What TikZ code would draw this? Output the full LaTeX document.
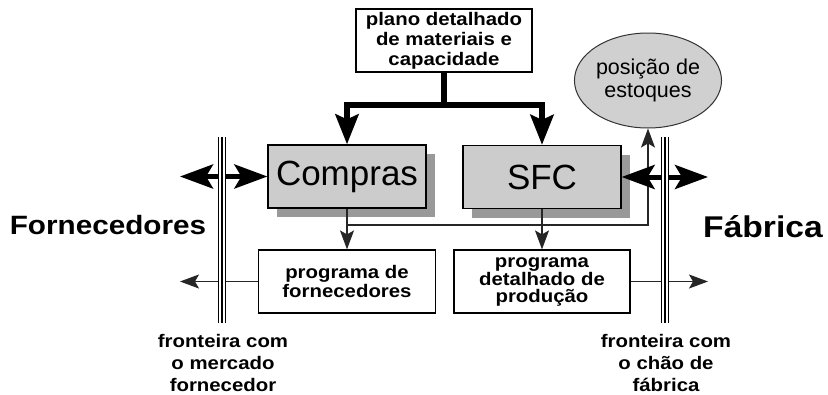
\documentclass[tikz,border=0pt]{standalone}
\usepackage{fontspec}
\setmainfont{Liberation Sans}
\newfontfamily\bsans[FakeStretch=1.12]{Liberation Sans}
\usetikzlibrary{arrows.meta,shapes.geometric,shadows}
\definecolor{boxgray}{HTML}{CCCCCC}
\definecolor{shadowgray}{HTML}{999999}
\definecolor{circgray}{HTML}{D0D0D0}
\tikzset{
  wbox/.style={draw=black, line width=1.2pt, fill=white, inner sep=0pt, align=center,
    font=\bsans\bfseries\fontsize{18.2}{17}\selectfont},
  gbox/.style={draw=black, line width=1.2pt, fill=boxgray, inner sep=0pt,
    minimum width=158pt, minimum height=63pt,
    drop shadow={shadow xshift=9pt, shadow yshift=-9pt, fill=shadowgray, opacity=1},
    font=\fontsize{35}{40}\selectfont},
  thickarr/.style={line width=6pt, line join=miter,
    -{Stealth[length=30pt,width=23pt,inset=5pt]}},
  thinline/.style={line width=1.3pt, draw=black!85},
  thinarr/.style={thinline, -{Stealth[length=19pt,width=14pt,inset=4pt]}},
  dblarr/.style={line width=5pt,
    {Stealth[length=33pt,width=24pt,inset=7pt]}-{Stealth[length=33pt,width=24pt,inset=7pt]}},
  biglabel/.style={inner sep=0pt, font=\bsans\bfseries\fontsize{26.5}{30}\selectfont},
  smlabel/.style={inner sep=0pt, align=center, font=\bsans\bfseries\fontsize{18.2}{22}\selectfont},
}
\newcommand{\boundaryline}[2]{%
  \draw[line width=8pt, black] (#1) -- (#2);
  \draw[line width=5.5pt, white] (#1) -- (#2);
  \draw[line width=2pt, black] (#1) -- (#2);}
\begin{document}
\begin{tikzpicture}[x=1pt,y=-1pt]
\useasboundingbox (0,0) rectangle (828,394);

% top box
\node[wbox, minimum width=176pt, minimum height=63pt,
  font=\bsans\bfseries\fontsize{18.2}{20}\selectfont] (plan) at (444,40.5)
  {plano detalhado\\de materiais e\\capacidade};

% main boxes
\node[gbox] (comp) at (347,176.5) {Compras};
\node[gbox] (sfc) at (542,177) {SFC};

% stock circle
\node[ellipse, draw=black!80, line width=1pt, fill=circgray, minimum width=122pt,
  minimum height=95pt, inner sep=0pt, align=center,
  font=\fontsize{21.5}{23}\selectfont] (circ) at (648,80.5) {posição de\\estoques};

% lower boxes
\node[wbox, minimum width=177pt, minimum height=63pt] (pf) at (347,281.5)
  {programa de\\fornecedores};
\node[wbox, minimum width=176pt, minimum height=63pt] (pp) at (542,281.5)
  {programa\\detalhado de\\produção};

% coordinates
\coordinate (j) at (444,105);
\coordinate (k) at (648,225);
\coordinate (pfout) at (180,281.5);
\coordinate (ppout) at (708,281.5);
\coordinate (lout) at (180,176.5);
\coordinate (rout) at (708,177);

% thick connectors
\draw[thickarr] (plan.south) -- (plan.south |- j) -| (comp.north);
\draw[thickarr] (plan.south |- j) -| (sfc.north);

% thin connectors
\draw[thinarr] (comp.south) -- (pf.north);
\draw[thinarr] (comp.south |- k) -- (k) -- (circ.south);
\draw[thinarr] (sfc.south) -- (pp.north);
\draw[thinarr] (pf.west) -- (pfout);
\draw[thinarr] (pp.east) -- (ppout);

% double arrows
\draw[dblarr] (lout) -- (comp.west);
\draw[dblarr] (sfc.east) -- (rout);

% boundaries
\coordinate (lb1) at (222,137); \coordinate (lb2) at (222,323);
\coordinate (rb1) at (665,137); \coordinate (rb2) at (665,323);
\boundaryline{lb1}{lb2}
\boundaryline{rb1}{rb2}

% labels
\node[biglabel, anchor=base] (forn) at (108,234) {Fornecedores};
\node[biglabel, anchor=base, font=\bsans\bfseries\fontsize{30}{34}\selectfont] (fab) at (763,237) {Fábrica};
\node[smlabel, anchor=north] (lbl) at (223,334) {fronteira com\\o mercado\\fornecedor};
\node[smlabel, anchor=north] (rbl) at (666,334) {fronteira com\\o chão de\\fábrica};
\end{tikzpicture}
\end{document}
